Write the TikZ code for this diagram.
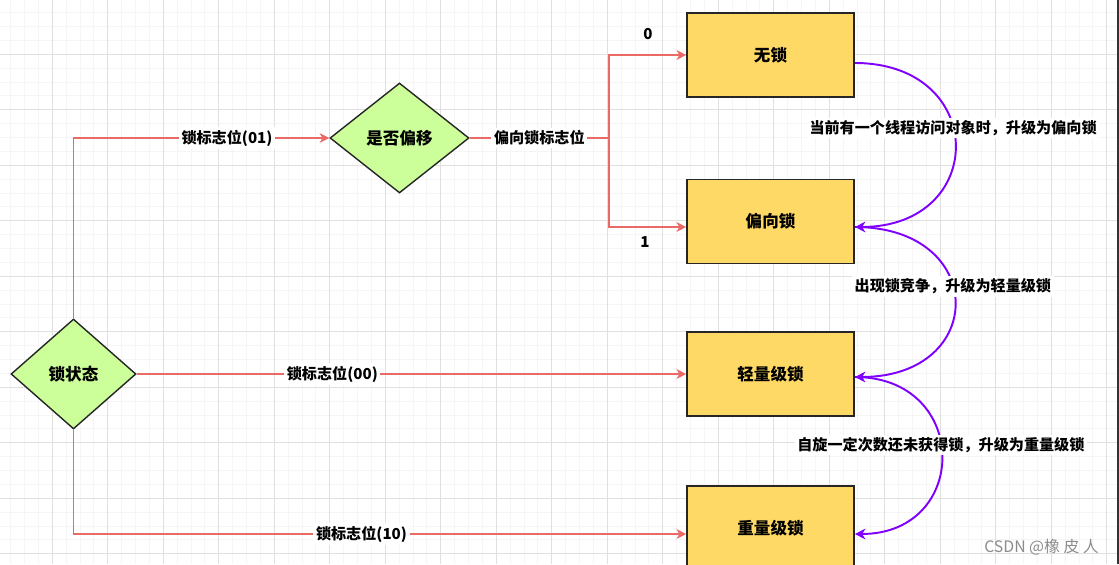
\documentclass[tikz,border=0pt]{standalone}
\usepackage{fontspec}
\setmainfont{Noto Sans CJK SC}
\usetikzlibrary{arrows.meta,positioning,shapes.geometric}
\definecolor{flowred}{HTML}{EA6B66}
\definecolor{upviolet}{HTML}{7F00FF}
\definecolor{boxyellow}{HTML}{FFD966}
\definecolor{judgegreen}{HTML}{CCFF99}

\begin{document}
\begin{tikzpicture}[font=\bfseries\fontsize{8.6}{10}\selectfont,
  lockbox/.style={draw=black!85,line width=0.9pt,fill=boxyellow,minimum width=3.34cm,minimum height=1.68cm,inner sep=0pt,font=\bfseries\fontsize{9.4}{11}\selectfont},
  judge/.style={diamond,draw=black!85,line width=0.8pt,fill=judgegreen,minimum height=2.2cm,inner sep=0pt,font=\bfseries\fontsize{9.4}{11}\selectfont},
  flow/.style={draw=flowred,line width=0.8pt,-{Stealth[length=5.5pt,width=5.5pt,inset=1.6pt]}},
  upgrade/.style={draw=upviolet,line width=1.1pt,-{Stealth[length=6pt,width=6pt,inset=1.8pt]}},
  lbl/.style={fill=white,inner sep=1.5pt},
  gridminor/.style={draw=black!4,line width=0.02cm},
  gridmajor/.style={draw=black!12,line width=0.02cm}]
\useasboundingbox (0,0) rectangle (22.38,11.28);
\fill[white] (0,0) rectangle (22.38,11.28);
\foreach \k in {-4,...,78} {\draw[gridminor] ({1.046+0.2775*\k},0) -- ++(0,11.28);}
\foreach \k in {-4,...,38} {\draw[gridminor] (0,{10.194-0.2775*\k}) -- ++(22.38,0);}
\foreach \k in {-1,...,20} {\draw[gridmajor] ({1.046+1.11*\k},0) -- ++(0,11.28);}
\foreach \k in {-1,...,10} {\draw[gridmajor] (0,{10.194-1.11*\k}) -- ++(22.38,0);}
\fill[black!80] (22.34,0) rectangle (22.38,11.28);
\node[judge,minimum width=2.5cm] (state) at (1.47,3.80) {锁状态};
\node[judge,minimum width=2.78cm] (isbias) at (7.99,8.52) {是否偏移};
\node[lockbox] (nolock) at (15.41,10.18) {无锁};
\node[lockbox] (biaslock) at (15.41,6.85) {偏向锁};
\node[lockbox] (light) at (15.41,3.80) {轻量级锁};
\node[lockbox] (heavy) at (15.41,0.72) {重量级锁};
\coordinate (split) at (12.18,8.52);
\draw[flow] (state.north) |- node[lbl,pos=0.8] {锁标志位(01)} (isbias.west);
\draw[flow,-] (isbias.east) -- node[lbl] {偏向锁标志位} (split);
\draw[flow] (split) |- (nolock.west);
\draw[flow] (split) |- ([yshift=-0.11cm]biaslock.west);
\draw[flow] (state.east) -- node[lbl,pos=0.356] {锁标志位(00)} (light.west);
\draw[flow] (state.south) |- node[lbl,pos=0.735] {锁标志位(10)} ([yshift=-0.12cm]heavy.west);
\node (zero) at (12.96,10.60) {0};
\node (one) at (12.90,6.44) {1};
\draw[upgrade] ([yshift=-0.16cm]nolock.east) to[out=0,in=0,looseness=2.09] node[lbl,pos=0.43] {当前有一个线程访问对象时，升级为偏向锁} ([yshift=-0.11cm]biaslock.east);
\draw[upgrade] ([yshift=-0.11cm]biaslock.east) to[out=0,in=0,looseness=2.28] node[lbl,pos=0.43] {出现锁竞争，升级为轻量级锁} ([yshift=-0.06cm]light.east);
\draw[upgrade] ([yshift=-0.06cm]light.east) to[out=0,in=0,looseness=1.89] node[lbl,pos=0.455] {自旋一定次数还未获得锁，升级为重量级锁} ([yshift=-0.12cm]heavy.east);
\node[font=\mdseries\fontsize{9}{10}\selectfont,text=black!45] (mark) at (20.83,0.34) {CSDN @橡\ 皮\ 人};
\end{tikzpicture}
\end{document}
